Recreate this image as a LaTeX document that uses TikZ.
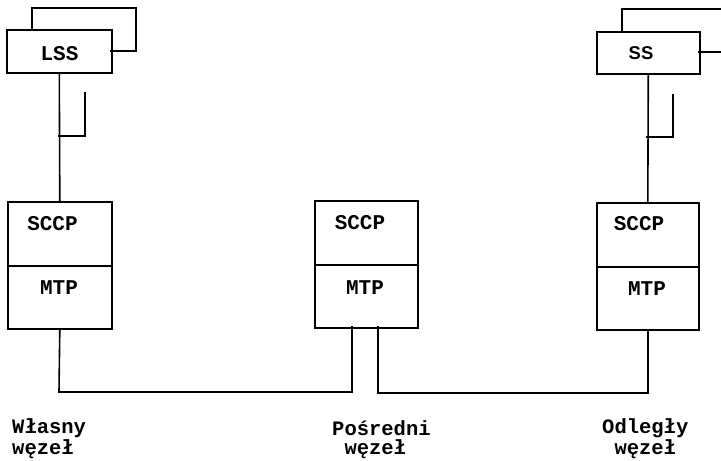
\documentclass[tikz,border=0pt]{standalone}
\usepackage{fontspec}
\newfontfamily\monob{Liberation Mono}
\newfontfamily\sansb{Liberation Sans}
\begin{document}
\begin{tikzpicture}[x=1pt,y=-1pt,
  ln/.style={line width=1.6pt, line cap=rect, line join=miter},
  box/.style={draw, line width=1.6pt, inner sep=0pt, anchor=north west},
  lbl/.style={font=\monob\bfseries\fontsize{21}{21}\selectfont, inner sep=0pt, anchor=base},
  captxt/.style={font=\monob\bfseries\fontsize{20.5}{18.5}\selectfont, inner sep=0pt, anchor=base west, align=left}]
\useasboundingbox (0,0) rectangle (721,461);

% ---- left node (LSS) ----
\draw[ln] (32,29) coordinate (lbkA) -- (32,8) -- (136,8) -- (136,51) -- (111,51) coordinate (lbkB);
\node[box, minimum width=105pt, minimum height=43pt] (lss) at (6,29) {};
\node[lbl] (lsst) at (59.5,60) {LSS};

\node[box, minimum width=104pt, minimum height=64pt] (lsccp) at (7,201) {};
\node[box, minimum width=104pt, minimum height=63pt] (lmtp) at (7,265) {};
\node[lbl] (lsccpt) at (52.5,230) {SCCP};
\node[lbl] (lmtpt) at (59,294) {MTP};

\draw[ln] (lss.south) -- (lsccp.north);
\coordinate (lbr) at (85,93);
\draw[ln] (lbr) -- (85,136) -- (59,136);

% ---- middle node ----
\node[box, minimum width=103pt, minimum height=64pt] (msccp) at (314,200) {};
\node[box, minimum width=103pt, minimum height=63pt] (mmtp) at (314,264) {};
\node[lbl] (msccpt) at (360,229) {SCCP};
\node[lbl] (mmtpt) at (365,294) {MTP};

% ---- right node (SS) ----
\draw[ln] (622,31) coordinate (rbkA) -- (622,9) -- (722,9);
\draw[ln] (699,52) -- (722,52);
\node[box, minimum width=103pt, minimum height=42pt] (ss) at (596,31) {};
\node[font=\sansb\bfseries\fontsize{18.5}{18.5}\selectfont, inner sep=0pt, anchor=base] (sst) at (641,59) {SS};

\node[box, minimum width=102pt, minimum height=64pt] (rsccp) at (596,202) {};
\node[box, minimum width=102pt, minimum height=63pt] (rmtp) at (596,266) {};
\node[lbl] (rsccpt) at (639,230) {SCCP};
\node[lbl] (rmtpt) at (647,295) {MTP};

\draw[ln] (ss.south) -- (rsccp.north);
\coordinate (rbr) at (673,95);
\draw[ln] (rbr) -- (673,137) -- (647,137);

% ---- links ----
\draw[ln] (lmtp.south) -- (59,392) -- (352,392) -- (352,327);
\draw[ln] (378,327) -- (378,393) -- (rmtp.south |- 0,393) -- (rmtp.south);

% ---- captions ----
\node[captxt] (c1) at (12,454) {Własny\\węzeł};
\node[captxt] (c2) at (332,454) {Pośredni\\\hspace*{0.6em}węzeł};
\node[captxt] (c3) at (602,454) {Odległy\\\hspace*{0.6em}węzeł};
\end{tikzpicture}
\end{document}
